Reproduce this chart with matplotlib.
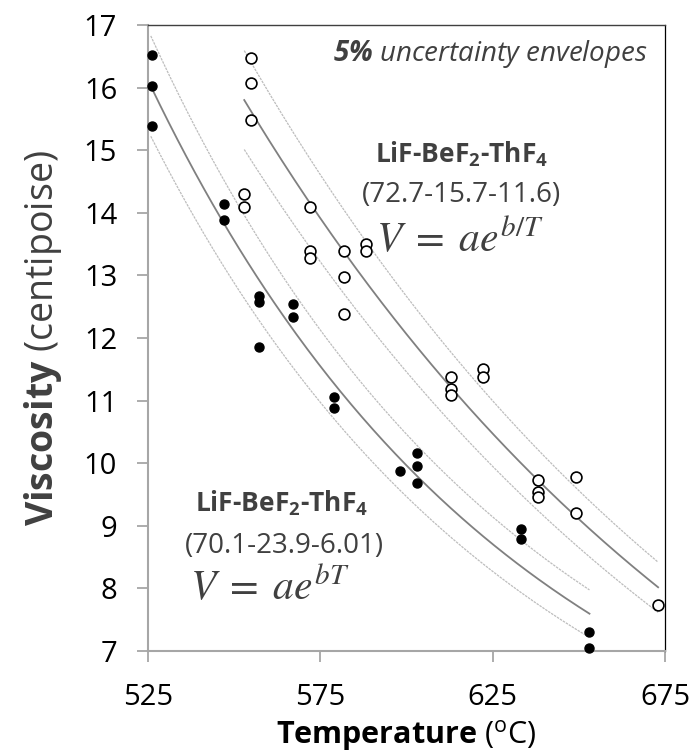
import numpy as np
import matplotlib
matplotlib.use("Agg")
import matplotlib.pyplot as plt

plt.rcParams['font.family'] = ['Open Sans', 'DejaVu Sans']
plt.rcParams['mathtext.fontset'] = 'custom'
plt.rcParams['mathtext.rm'] = 'Open Sans'
plt.rcParams['mathtext.bf'] = 'Open Sans:bold'
plt.rcParams['mathtext.it'] = 'Open Sans:italic'
plt.rcParams['mathtext.sf'] = 'Open Sans:bold:italic'

# ---- data: LiF-BeF2-ThF4 (70.1-23.9-6.01), filled markers ----
temp_filled = [526.2, 526.2, 526.2, 547.1, 547.1, 557.2, 557.2, 557.2, 567.1, 567.1,
               579.1, 579.1, 598.2, 603.2, 603.2, 603.2, 633.2, 633.2, 653.1, 653.1]
visc_filled = [16.52, 16.03, 15.38, 14.14, 13.88, 12.67, 12.58, 11.86, 12.54, 12.33,
               11.05, 10.89, 9.87, 10.17, 9.95, 9.68, 8.95, 8.79, 7.30, 7.05]

# ---- data: LiF-BeF2-ThF4 (72.7-15.7-11.6), open markers ----
temp_open = [555.1, 555.1, 555.1, 553.0, 553.0, 572.0, 572.0, 572.0, 582.0, 582.0, 582.0,
             588.2, 588.2, 613.0, 613.0, 613.0, 622.1, 622.1, 638.3, 638.3, 638.3,
             649.2, 649.2, 673.0]
visc_open = [16.48, 16.08, 15.49, 14.30, 14.09, 14.09, 13.39, 13.28, 13.39, 12.98, 12.38,
             13.50, 13.39, 11.38, 11.18, 11.09, 11.50, 11.38, 9.73, 9.54, 9.46,
             9.78, 9.20, 7.73]

# ---- fitted trend curves ----
fit_filled_T = [525.9, 549.6, 562.9, 580.8, 603.0, 613.7, 633.2, 653.1]
fit_filled_V = [15.96, 13.78, 12.45, 11.01, 9.79, 9.25, 8.45, 7.55]
fit_open_T = [553.0, 572.0, 582.0, 598.2, 613.3, 638.3, 649.2, 673.0]
fit_open_V = [15.79, 14.10, 13.38, 12.29, 11.25, 9.57, 9.17, 8.05]
envelope = 0.05

x_ticks = [525, 575, 625, 675]
y_ticks = list(range(7, 18))

fig = plt.figure(figsize=(6.93, 7.54), dpi=100)
ax = fig.add_axes([0.2131, 0.1366, 0.7465, 0.8302])

def smooth(Ts, Vs):
    coef = np.polyfit(Ts, np.log(Vs), 2)
    tt = np.linspace(Ts[0], Ts[-1], 200)
    return tt, np.exp(np.polyval(coef, tt))

for Ts, Vs in [(fit_filled_T, fit_filled_V), (fit_open_T, fit_open_V)]:
    tt, vv = smooth(Ts, Vs)
    ax.plot(tt, vv * (1 + envelope), color='#bdbdbd', lw=0.9, ls=(0, (2, 0.8)), zorder=1)
    ax.plot(tt, vv * (1 - envelope), color='#bdbdbd', lw=0.9, ls=(0, (2, 0.8)), zorder=1)
    ax.plot(tt, vv, color='#808080', lw=1.3, zorder=2)

ax.plot(temp_filled, visc_filled, 'o', color='black', ms=6.5, zorder=3, clip_on=False)
ax.plot(temp_open, visc_open, 'o', mfc='white', mec='black', mew=1.2, ms=7.8, zorder=3,
        clip_on=False)

ax.set_xlim(525, 675)
ax.set_ylim(7, 17)
ax.set_xticks(x_ticks)
ax.set_yticks(y_ticks)
ax.tick_params(axis='x', direction='out', length=8, width=1.3, color='#a6a6a6',
               labelsize=21, pad=15, labelcolor='black')
ax.tick_params(axis='y', direction='out', length=8, width=1.3, color='#a6a6a6',
               labelsize=21, pad=14, labelcolor='black')
for s in ['left', 'bottom']:
    ax.spines[s].set_color('#a6a6a6')
    ax.spines[s].set_linewidth(1.5)
ax.spines['top'].set_color('#404040')
ax.spines['top'].set_linewidth(1.0)
ax.spines['right'].set_color('black')
ax.spines['right'].set_linewidth(0.9)

ax.set_ylabel(r'$\mathbf{Viscosity}$ (centipoise)', fontsize=27, color='#404040', labelpad=14)
ax.set_xlabel(r'$\mathbf{Temperature}$ ($^{\mathrm{o}}$C)', fontsize=22, color='black', labelpad=4)

tc = '#404040'
ax.text(0.967, 0.9537, r'$\mathsf{5\%}$ uncertainty envelopes', transform=ax.transAxes,
        ha='right', va='center', fontsize=20, fontstyle='italic', color=tc)

ax.text(0.6066, 0.7796, r'LiF-BeF$_\mathbf{2}$-ThF$_\mathbf{4}$', transform=ax.transAxes,
        ha='center', va='baseline', fontsize=19, fontweight='bold', color=tc)
ax.text(0.6066, 0.7173, '(72.7-15.7-11.6)', transform=ax.transAxes,
        ha='center', va='baseline', fontsize=20, color=tc)
ax.text(0.6037, 0.6374, r'$V\;=\;ae^{b/T}$', transform=ax.transAxes, math_fontfamily='stix',
        ha='center', va='baseline', fontsize=30, color=tc)

ax.text(0.2596, 0.2220, r'LiF-BeF$_\mathbf{2}$-ThF$_\mathbf{4}$', transform=ax.transAxes,
        ha='center', va='baseline', fontsize=19, fontweight='bold', color=tc)
ax.text(0.2636, 0.1565, '(70.1-23.9-6.01)', transform=ax.transAxes,
        ha='center', va='baseline', fontsize=20, color=tc)
ax.text(0.2365, 0.0815, r'$V\;=\;ae^{bT}$', transform=ax.transAxes, math_fontfamily='stix',
        ha='center', va='baseline', fontsize=30, color=tc)

fig.savefig('out.png', dpi=100)
